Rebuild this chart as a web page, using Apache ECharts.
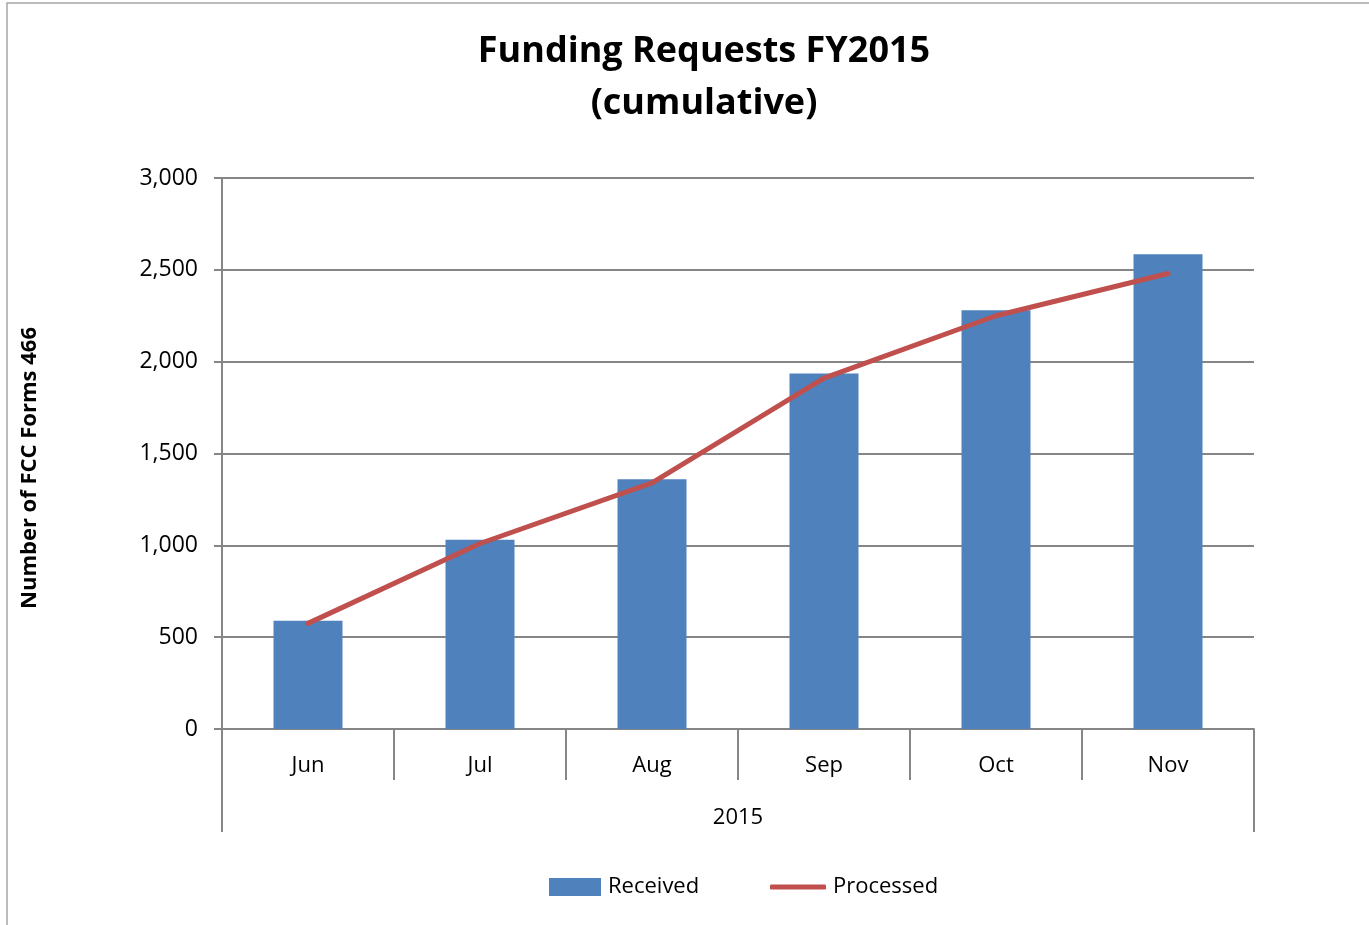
<!DOCTYPE html>
<html>
<head>
<meta charset="utf-8">
<script src="https://cdn.jsdelivr.net/npm/echarts@6/dist/echarts.min.js"></script>
<style>
  html, body { margin: 0; padding: 0; background: #fff; }
  #chart { width: 1369px; height: 925px; }
</style>
</head>
<body>
<div id="chart"></div>
<script>
const months = ["Jun", "Jul", "Aug", "Sep", "Oct", "Nov"];
const year = ["2015"];
const received = [590, 1030, 1360, 1935, 2280, 2585];
const processed = [575, 1010, 1340, 1910, 2250, 2480];
const yTitle = "Number of FCC Forms 466";

const font = "'Open Sans', 'Noto Sans', sans-serif";
const axisGrey = "#868686";
const legendText = { fontSize: 22, color: "#000", fontFamily: font, padding: [0, 0, 0, 2] };

const myChart = echarts.init(document.getElementById("chart"));
myChart.setOption({
  animation: false,
  textStyle: { fontFamily: font },
  title: {
    text: "Funding Requests FY2015\n(cumulative)",
    left: 699,
    top: 21,
    textAlign: "center",
    textStyle: { fontSize: 36, fontWeight: "bold", color: "#000", lineHeight: 52, fontFamily: font },
  },
  graphic: [
    {
      type: "polyline",
      shape: { points: [[7, 925], [7, 3], [1369, 3]] },
      style: { stroke: "#a6a6a6", lineWidth: 1.5, fill: null },
    },
    {
      type: "text",
      x: 30,
      y: 468,
      rotation: Math.PI / 2,
      style: {
        text: yTitle,
        fontSize: 22,
        fontWeight: "bold",
        fontFamily: font,
        fill: "#000",
        align: "center",
        verticalAlign: "middle",
      },
    },
  ],
  grid: { left: 222, right: 115, top: 178, bottom: 196 },
  legend: [
    {
      left: 549,
      top: 876,
      padding: 0,
      itemWidth: 52,
      itemHeight: 18,
      textStyle: legendText,
      data: [{ name: "Received", icon: "rect" }],
    },
    {
      left: 770,
      top: 876,
      padding: 0,
      itemWidth: 56,
      itemHeight: 5,
      textStyle: legendText,
      data: [{ name: "Processed", icon: "roundRect" }],
    },
  ],
  xAxis: [
    {
      type: "category",
      data: months,
      axisLine: { show: true, lineStyle: { color: axisGrey, width: 2 } },
      axisTick: { show: true, length: 51, lineStyle: { color: axisGrey, width: 2 } },
      axisLabel: { fontSize: 22, color: "#000", margin: 26 },
    },
    {
      type: "category",
      data: year,
      position: "bottom",
      axisLine: { show: false },
      axisTick: { show: true, length: 103, lineStyle: { color: axisGrey, width: 2 } },
      axisLabel: { fontSize: 22, color: "#000", margin: 78 },
    },
  ],
  yAxis: {
    type: "value",
    min: 0,
    max: 3000,
    interval: 500,
    axisLine: { show: true, lineStyle: { color: axisGrey, width: 2 } },
    axisTick: { show: true, length: 8, lineStyle: { color: axisGrey, width: 2 } },
    axisLabel: {
      fontSize: 23,
      color: "#000",
      margin: 24,
      formatter: (v) => v.toLocaleString("en-US"),
    },
    splitLine: { lineStyle: { color: axisGrey, width: 2 } },
  },
  series: [
    {
      name: "Received",
      type: "bar",
      data: received,
      barWidth: 69,
      itemStyle: { color: "#4F81BD" },
    },
    {
      name: "Processed",
      type: "line",
      data: processed,
      symbol: "none",
      showSymbol: false,
      lineStyle: { color: "#C0504D", width: 5, cap: "round", join: "round" },
      itemStyle: { color: "#C0504D" },
    },
  ],
});
</script>
</body>
</html>
